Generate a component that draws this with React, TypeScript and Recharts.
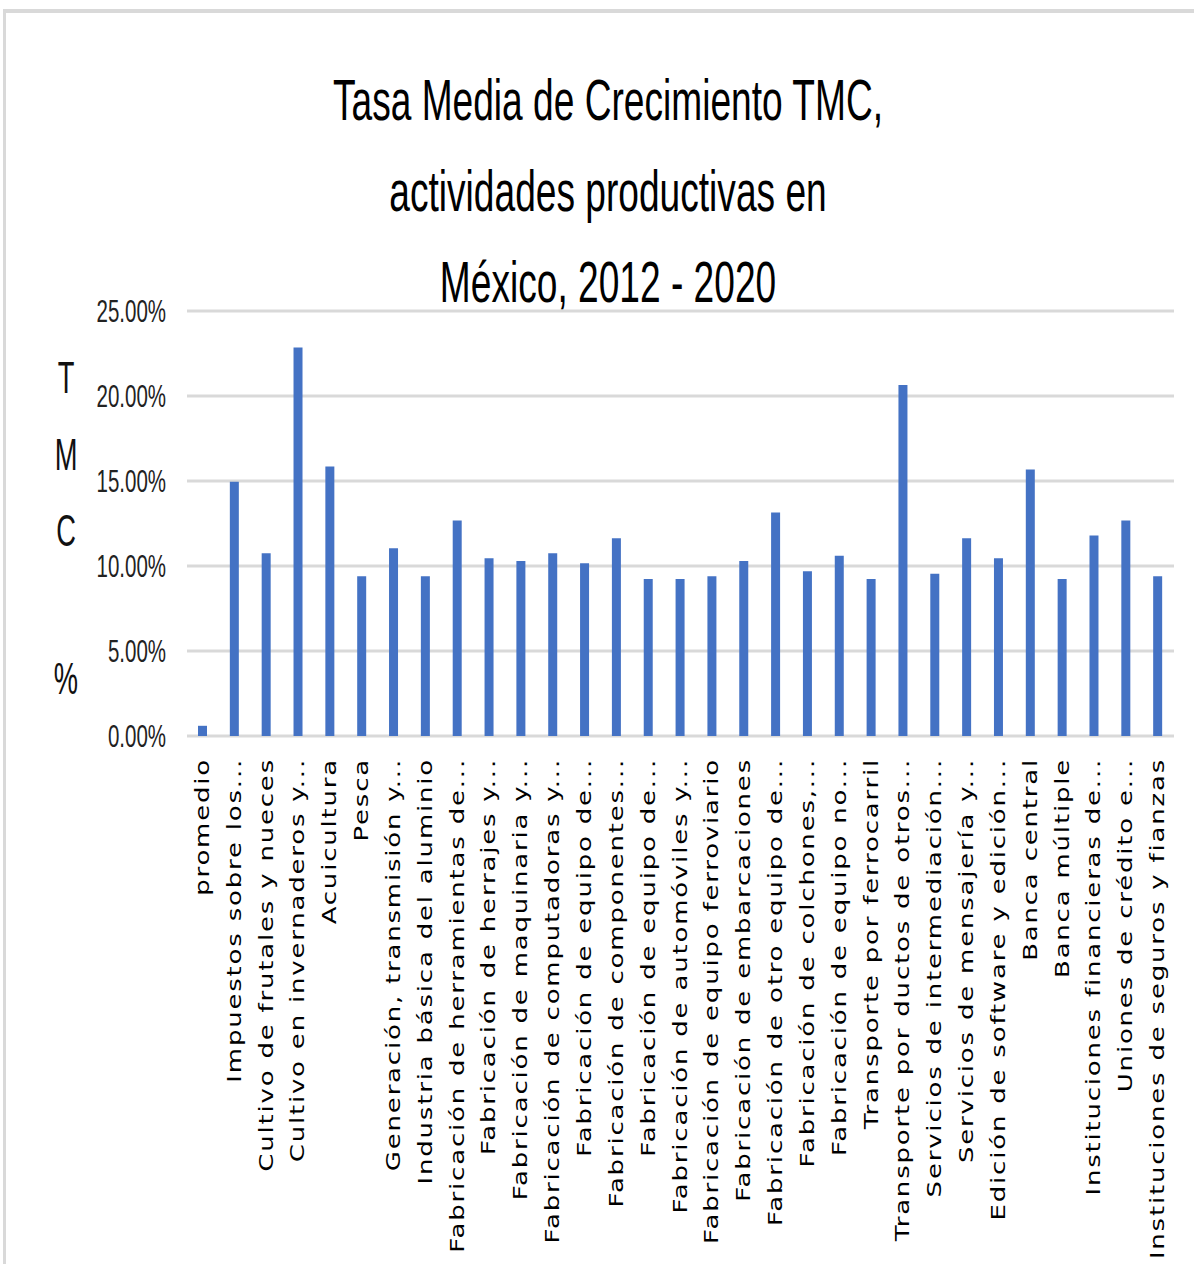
import { BarChart, Bar, XAxis, YAxis, CartesianGrid } from 'recharts'

const categories = [
  'promedio',
  'Impuestos sobre los...',
  'Cultivo de frutales y nueces',
  'Cultivo en invernaderos y...',
  'Acuicultura',
  'Pesca',
  'Generación, transmisión y...',
  'Industria básica del aluminio',
  'Fabricación de herramientas de...',
  'Fabricación de herrajes y...',
  'Fabricación de maquinaria y...',
  'Fabricación de computadoras y...',
  'Fabricación de equipo de...',
  'Fabricación de componentes...',
  'Fabricación de equipo de...',
  'Fabricación de automóviles y...',
  'Fabricación de equipo ferroviario',
  'Fabricación de embarcaciones',
  'Fabricación de otro equipo de...',
  'Fabricación de colchones,...',
  'Fabricación de equipo no...',
  'Transporte por ferrocarril',
  'Transporte por ductos de otros...',
  'Servicios de intermediación...',
  'Servicios de mensajería y...',
  'Edición de software y edición...',
  'Banca central',
  'Banca múltiple',
  'Instituciones financieras de...',
  'Uniones de crédito e...',
  'Instituciones de seguros y fianzas',
]

const tmc = [
  0.006, 0.1495, 0.1075, 0.2286, 0.1586, 0.0939, 0.1104, 0.0939, 0.1268, 0.1045,
  0.103, 0.1075, 0.1016, 0.1163, 0.0924, 0.0924, 0.0939, 0.103, 0.1315, 0.0969,
  0.1061, 0.0924, 0.2064, 0.0955, 0.1163, 0.1045, 0.1568, 0.0924, 0.1179, 0.1268,
  0.0939,
]

const yTicks = [0, 0.05, 0.1, 0.15, 0.2, 0.25]
const titleLines = ['Tasa Media de Crecimiento TMC,', 'actividades productivas en', 'México, 2012 - 2020']
const yTitle = ['T', 'M', 'C', '%']

const chartData = categories.map((name, i) => ({ idx: i, name, tmc: tmc[i] }))

function XTick({ x, y, payload }: any) {
  const label = categories[payload.value] ?? ''
  return (
    <g transform={`translate(${x + 6},${y + 14}) scale(0.72,1)`}>
      <text
        transform="rotate(-90)"
        textAnchor="end"
        fontFamily="DejaVu Sans"
        fontSize={26}
        letterSpacing={1.8}
        fill="#000"
      >
        {label}
      </text>
    </g>
  )
}

function YTick({ y, payload }: any) {
  return (
    <g transform={`translate(166,${y + 11}) scale(0.64,1)`}>
      <text textAnchor="end" fontFamily="Liberation Sans" fontSize={32} fill="#222">
        {(payload.value * 100).toFixed(2) + '%'}
      </text>
    </g>
  )
}

export default function App() {
  return (
    <div style={{ position: 'absolute', left: 0, top: 0, width: 1194, height: 1264, background: '#fff', overflow: 'hidden' }}>
      <div
        style={{
          position: 'absolute',
          left: 3,
          top: 9,
          width: 1200,
          height: 1270,
          borderTop: '4px solid #d9d9d9',
          borderLeft: '3px solid #d9d9d9',
        }}
      />
      {titleLines.map((t, i) => (
        <div
          key={i}
          style={{
            position: 'absolute',
            left: 0,
            width: 1216,
            top: 70 + i * 91,
            textAlign: 'center',
            fontFamily: 'Liberation Sans',
            fontSize: 58,
            lineHeight: '60px',
            color: '#000',
            transform: 'scaleX(0.64)',
            transformOrigin: '608px 0',
            whiteSpace: 'nowrap',
          }}
        >
          {t}
        </div>
      ))}
      {yTitle.map((t, i) => (
        <div
          key={t}
          style={{
            position: 'absolute',
            left: 36,
            width: 60,
            top: [355, 432, 508, 656][i],
            textAlign: 'center',
            fontFamily: 'Liberation Sans',
            fontSize: 44,
            lineHeight: '46px',
            color: '#111',
            transform: 'scaleX(0.62)',
            transformOrigin: '30px 0',
          }}
        >
          {t}
        </div>
      ))}
      <BarChart
        width={1194}
        height={1264}
        data={chartData}
        margin={{ top: 311, right: 20, bottom: 0, left: 0 }}
        barCategoryGap={0}
      >
        <CartesianGrid vertical={false} stroke="#d9d9d9" strokeWidth={3} />
        <XAxis
          dataKey="idx"
          interval={0}
          axisLine={false}
          tickLine={false}
          height={528}
          tick={<XTick />}
        />
        <YAxis
          domain={[0, 0.25]}
          ticks={yTicks}
          width={187}
          axisLine={false}
          tickLine={false}
          tick={<YTick />}
        />
        <Bar dataKey="tmc" fill="#4472c4" barSize={9} isAnimationActive={false} />
      </BarChart>
    </div>
  )
}
